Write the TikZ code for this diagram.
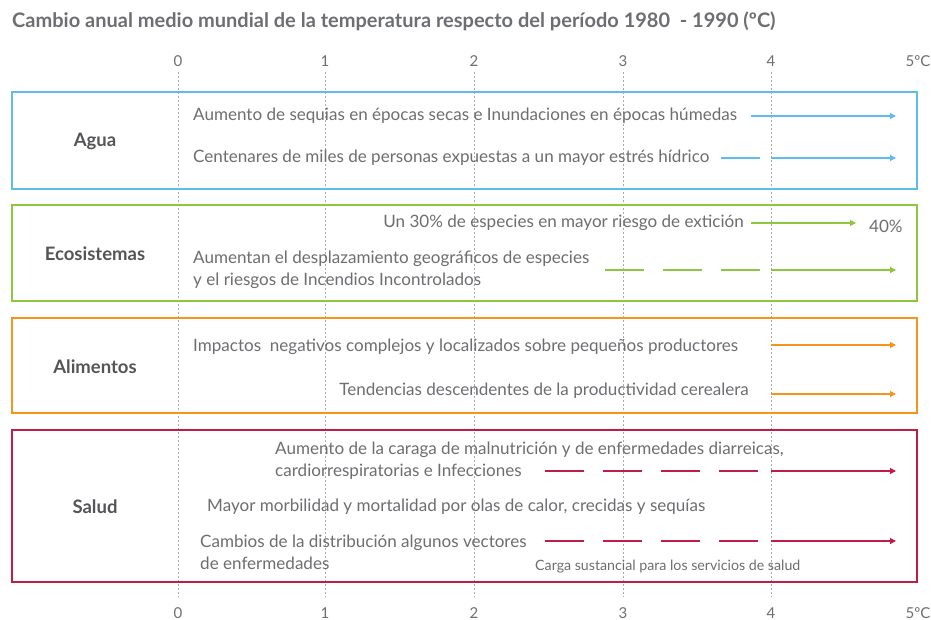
\documentclass[tikz,border=0pt]{standalone}
\usepackage{fontspec}
\setmainfont{Lato}
\usetikzlibrary{arrows.meta}
\definecolor{txt}{HTML}{6D6E71}
\definecolor{lab}{HTML}{555559}
\definecolor{agua}{HTML}{5DBDEB}
\definecolor{eco}{HTML}{8DC63F}
\definecolor{alim}{HTML}{F7941D}
\definecolor{salud}{HTML}{BE1E45}
\definecolor{grid}{HTML}{A7A9AC}
\begin{document}
\begin{tikzpicture}[x=1pt,y=-1pt,
  every node/.style={inner sep=0pt,text=txt,font=\fontsize{17.05}{22}\selectfont},
  box/.style={line width=2.6pt},
  cat/.style={font=\fontsize{18.5}{22}\selectfont\bfseries,text=lab},
  axl/.style={font=\fontsize{15}{18}\selectfont,text=txt},
  item/.style={anchor=west,align=left},
  arr/.style={line width=1.1pt,-{Triangle[length=6pt,width=6pt]}},
  dsh/.style={line width=1.1pt,dash pattern=on 39pt off 19pt},
  gridl/.style={grid,line width=0.6pt,dash pattern=on 2pt off 2pt}]
\useasboundingbox (0,0) rectangle (931,620);
\fill[white] (0,0) rectangle (931,620);
% title
\node[anchor=west,font=\fontsize{20}{24}\selectfont\bfseries,text=txt] (title) at (12,21) {Cambio anual medio mundial de la temperatura respecto del período 1980\ \ - 1990 (ºC)};
% grid lines
\foreach \i/\x in {0/178,1/325,2/474,3/623,4/771}{
  \draw[gridl] (\x,72) -- (\x,597);
  \node[axl] (t\i) at (\x,61) {\i};
  \node[axl] (b\i) at (\x,613) {\i};
}
\node[axl] (t5) at (918,61) {5ºC};
\node[axl] (b5) at (918,613) {5ºC};
% boxes
\draw[box,agua] (12,92) rectangle (917,189);
\draw[box,eco] (12,205) rectangle (917,301);
\draw[box,alim] (12,318) rectangle (917,413);
\draw[box,salud] (12,430) rectangle (917,582);
% categories
\node[cat] (agua) at (95,141) {Agua};
\node[cat] (eco) at (95,254) {Ecosistemas};
\node[cat] (alim) at (95,367) {Alimentos};
\node[cat] (salud) at (95,507) {Salud};
% Agua
\node[item] (a1) at (193,116) {Aumento de sequias en épocas secas e Inundaciones en épocas húmedas};
\node[item] (a2) at (193,158) {Centenares de miles de personas expuestas a un mayor estrés hídrico};
\coordinate (a1s) at (751,116); \coordinate (a1e) at (896,116);
\draw[arr,agua] (a1s) -- (a1e);
\coordinate (a2d) at (721,158); \coordinate (a2m) at (760,158);
\coordinate (a2s) at (771,158); \coordinate (a2e) at (896,158);
\draw[line width=1.1pt,agua] (a2d) -- (a2m);
\draw[arr,agua] (a2s) -- (a2e);
% Ecosistemas
\node[anchor=east] (e1) at (744,223) {Un 30\% de especies en mayor riesgo de extición};
\coordinate (e1s) at (751,223); \coordinate (e1e) at (856,223);
\draw[arr,eco] (e1s) -- (e1e);
\node[anchor=west] (e40) at (869,226) {40\%};
\node[item] (e2) at (193,270) {Aumentan el desplazamiento geográficos de especies\\y el riesgos de Incendios Incontrolados};
\coordinate (e2d) at (605,270); \coordinate (e2m) at (760,270);
\coordinate (e2s) at (771,270); \coordinate (e2e) at (896,270);
\draw[dsh,eco] (e2d) -- (e2m);
\draw[arr,eco] (e2s) -- (e2e);
% Alimentos
\node[item] (f1) at (193,347) {Impactos\ \ negativos complejos y localizados sobre pequeños productores};
\coordinate (f1s) at (771,345); \coordinate (f1e) at (896,345);
\draw[arr,alim] (f1s) -- (f1e);
\node[anchor=east] (f2) at (749,391) {Tendencias descendentes de la productividad cerealera};
\coordinate (f2s) at (771,394); \coordinate (f2e) at (896,394);
\draw[arr,alim] (f2s) -- (f2e);
% Salud
\node[item] (s1) at (275,461) {Aumento de la caraga de malnutrición y de enfermedades diarreicas,\\cardiorrespiratorias e Infecciones};
\coordinate (s1d) at (545,471); \coordinate (s1m) at (760,471);
\coordinate (s1s) at (771,471); \coordinate (s1e) at (896,471);
\draw[dsh,salud] (s1d) -- (s1m);
\draw[arr,salud] (s1s) -- (s1e);
\node[item] (s2) at (207,507) {Mayor morbilidad y mortalidad por olas de calor, crecidas y sequías};
\node[item] (s3) at (200,552) {Cambios de la distribución algunos vectores\\de enfermedades};
\coordinate (s3d) at (545,541); \coordinate (s3m) at (760,541);
\coordinate (s3s) at (771,541); \coordinate (s3e) at (896,541);
\draw[dsh,salud] (s3d) -- (s3m);
\draw[arr,salud] (s3s) -- (s3e);
\node[anchor=west,font=\fontsize{14.2}{17}\selectfont] (s4) at (535,567) {Carga sustancial para los servicios de salud};
\end{tikzpicture}
\end{document}
